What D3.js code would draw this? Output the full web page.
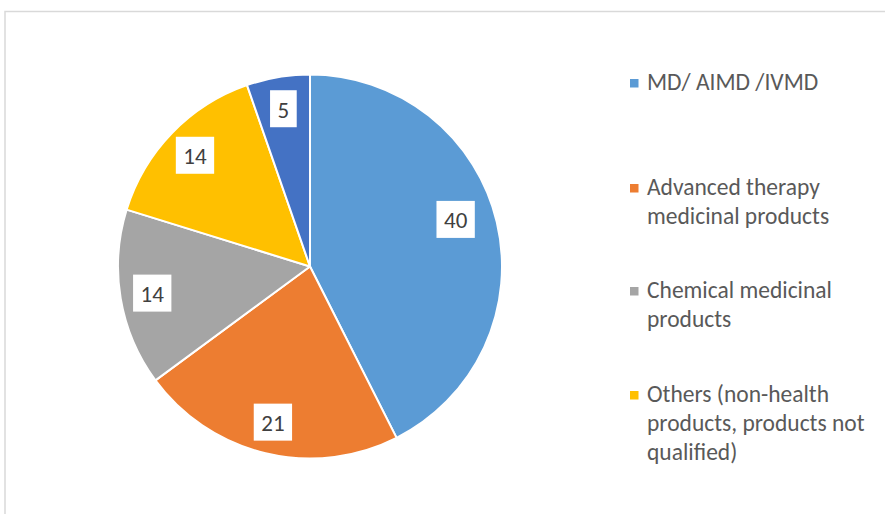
<!DOCTYPE html>
<html>
<head>
<meta charset="utf-8">
<script src="https://cdn.jsdelivr.net/npm/d3@7"></script>
<style>
  html, body { margin: 0; padding: 0; background: #fff; }
  svg { display: block; }
</style>
</head>
<body>
<svg id="chart" width="885" height="514"></svg>
<script>
// ---- data ----
const categories = [
  "MD/ AIMD /IVMD",
  "Advanced therapy medicinal products",
  "Chemical medicinal products",
  "Others (non-health products, products not qualified)",
  "(fifth category, legend entry outside the visible frame)"
];
const values = [40, 21, 14, 14, 5];
const colors = ["#5b9bd5", "#ed7d31", "#a5a5a5", "#ffc000", "#4472c4"];
// legend lines as wrapped in the original (only the first four entries are visible)
const legendLines = [
  ["MD/ AIMD /IVMD"],
  ["Advanced therapy", "medicinal products"],
  ["Chemical medicinal", "products"],
  ["Others (non-health", "products, products not", "qualified)"]
];

// ---- layout ----
const svg = d3.select("#chart");
const cx = 310, cy = 266.5, R = 192;
const fontFam = "Carlito, Calibri, Lato, 'Open Sans', sans-serif";

// frame (right/bottom edges fall outside the picture)
svg.append("rect")
  .attr("x", 5).attr("y", 11.5)
  .attr("width", 1000).attr("height", 1000)
  .attr("fill", "#fff")
  .attr("stroke", "#d9d9d9").attr("stroke-width", 1.5);

const data = categories.map((c, i) => ({ name: c, value: values[i], color: colors[i] }));

const pie = d3.pie().value(d => d.value).sort(null);
const arcs = pie(data);
const arc = d3.arc().innerRadius(0).outerRadius(R);
const labelArc = d3.arc().innerRadius(160).outerRadius(160);

const g = svg.append("g").attr("transform", `translate(${cx},${cy})`);

g.selectAll("path.slice")
  .data(arcs)
  .join("path")
  .attr("class", "slice")
  .attr("d", arc)
  .attr("fill", d => d.data.color)
  .attr("stroke", "#fff")
  .attr("stroke-width", 2)
  .attr("stroke-linejoin", "round");

// data labels in white boxes
const lbl = g.selectAll("g.lbl")
  .data(arcs)
  .join("g")
  .attr("class", "lbl")
  .attr("transform", (d, i) => {
    let [x, y] = labelArc.centroid(d);
    if (i === 0) { // Excel best-fit pulls the large-slice label slightly inward/up
      x -= 10; y -= 10;
    }
    return `translate(${x},${y})`;
  });

lbl.append("text")
  .attr("text-anchor", "middle")
  .attr("dominant-baseline", "central")
  .attr("y", 1)
  .attr("font-family", fontFam)
  .attr("font-size", 23)
  .attr("fill", "#404040")
  .text(d => d.data.value);

lbl.each(function() {
  const t = d3.select(this).select("text");
  const w = t.node().getComputedTextLength();
  d3.select(this).insert("rect", "text")
    .attr("x", -w / 2 - 7.5)
    .attr("y", -18.5)
    .attr("width", w + 15)
    .attr("height", 37)
    .attr("fill", "#fff");
});

// legend
const legendX = 630, textX = 647;
const itemBaselines = [90, 195, 298, 402];
const lineH = 29;
const leg = svg.append("g");
legendLines.forEach((lines, i) => {
  const base = itemBaselines[i];
  leg.append("rect")
    .attr("x", legendX).attr("y", base - 11)
    .attr("width", 8.5).attr("height", 8.5)
    .attr("fill", colors[i]);
  const t = leg.append("text")
    .attr("x", textX).attr("y", base)
    .attr("font-family", fontFam)
    .attr("font-size", 23.5)
    .attr("fill", "#595959");
  lines.forEach((ln, k) => {
    t.append("tspan").attr("x", textX).attr("y", base + k * lineH).text(ln);
  });
});
</script>
</body>
</html>
